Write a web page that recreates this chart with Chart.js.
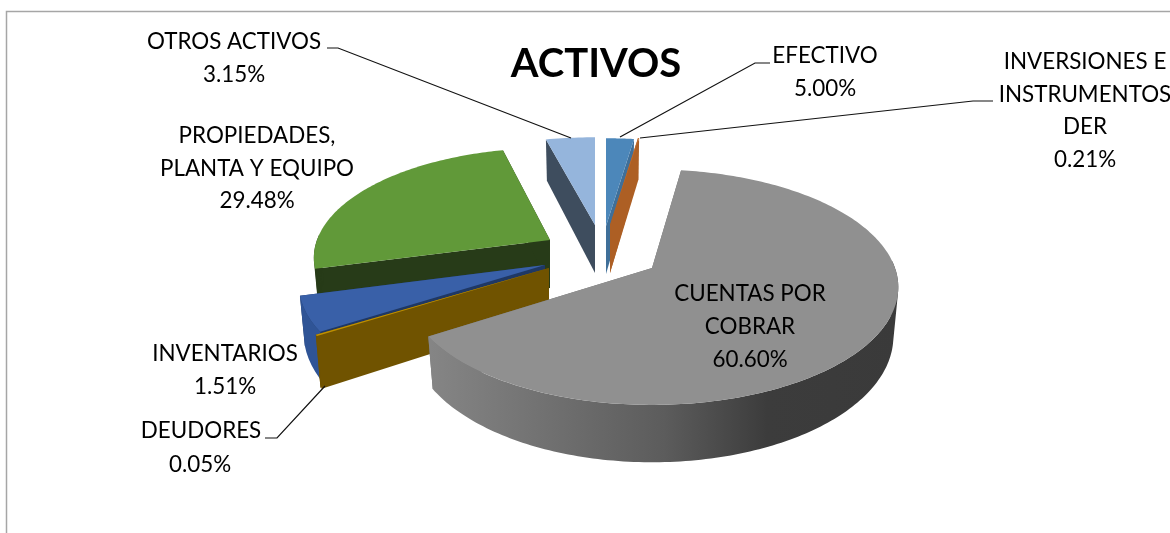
<!DOCTYPE html>
<html>
<head>
<meta charset="utf-8">
<style>
    html, body { margin: 0; padding: 0; background: #fff; overflow: hidden; }
    #wrap { width: 1170px; height: 533px; }
</style>
<script src="https://cdn.jsdelivr.net/npm/chart.js@4"></script>
</head>
<body>
<div id="wrap"><canvas id="chart" width="1170" height="533"></canvas></div>
<script>
const categories = ["EFECTIVO", "INVERSIONES E INSTRUMENTOS DER", "CUENTAS POR COBRAR", "DEUDORES", "INVENTARIOS", "PROPIEDADES, PLANTA Y EQUIPO", "OTROS ACTIVOS"];
const values = [5.00, 0.21, 60.60, 0.05, 1.51, 29.48, 3.15];
const chartTitle = "ACTIVOS";

const topColors = ["#4c87ba", "#c06a2b", "#909090", "#bf9000", "#3960a8", "#619939", "#95b5dc"];
const wallColors = ["#3f6f99", "#ad5f24", "#707070", "#705300", "#1f3864", "#273b18", "#3e4d5e"];
const rimColors = ["#3f6f99", "#ad5f24", null, "#705300", "#2f5496", "#273b18", "#3e4d5e"];

// where each exploded slice lands on the page, apex + radii of the tilted disc
const sliceViews = [
    { ax: 606, ay: 226, sx: 243, sy: 102 },
    { ax: 610, ay: 225, sx: 243, sy: 102 },
    { ax: 652, ay: 268, sx: 243, sy: 114.6 },
    { ax: 549, ay: 268, sx: 252, sy: 114 },
    { ax: 545, ay: 265, sx: 243, sy: 114 },
    { ax: 550, ay: 240, sx: 233, sy: 107 },
    { ax: 595, ay: 225, sx: 243, sy: 102 }
];
const drawOrder = [6, 0, 1, 5, 4, 3, 2];

// the 3D view squeezes the angles at the back of the pie: [data deg, drawn deg]
const angleWarp = [[0, 0], [18, 7.7], [18.76, 8], [236.9, 237], [242.5, 255], [348.7, 346.5], [360, 360]];
const perspective = 0.163;
const wallDepth = 48;
const wallShrink = 0.98;

const labelLines = [
    { text: "EFECTIVO", x: 825, y: 63 },
    { text: "5.00%", x: 825, y: 96 },
    { text: "INVERSIONES E", x: 1085, y: 69 },
    { text: "INSTRUMENTOS", x: 1085, y: 102 },
    { text: "DER", x: 1085, y: 134 },
    { text: "0.21%", x: 1085, y: 167 },
    { text: "CUENTAS POR", x: 750, y: 301 },
    { text: "COBRAR", x: 750, y: 334 },
    { text: "60.60%", x: 750, y: 367 },
    { text: "DEUDORES", x: 201, y: 438 },
    { text: "0.05%", x: 200, y: 472 },
    { text: "INVENTARIOS", x: 225, y: 361 },
    { text: "1.51%", x: 225, y: 394 },
    { text: "PROPIEDADES,", x: 257, y: 143 },
    { text: "PLANTA Y EQUIPO", x: 257, y: 176 },
    { text: "29.48%", x: 257, y: 208 },
    { text: "OTROS ACTIVOS", x: 234, y: 49 },
    { text: "3.15%", x: 234, y: 82 }
];
const leaderLines = [
    [[770, 63], [755, 63], [620, 137]],
    [[993, 101], [973, 101], [640, 138]],
    [[265, 438], [277, 438], [325, 386]],
    [[327, 48], [338, 48], [571, 138]]
];

function warpAngle(deg) {
    for (let i = 1; i < angleWarp.length; i++) {
        const a = angleWarp[i - 1];
        const b = angleWarp[i];
        if (deg <= b[0]) {
            return a[1] + (deg - a[0]) / (b[0] - a[0]) * (b[1] - a[1]);
        }
    }
    return deg;
}

function project(view, deg, bottom) {
    const t = warpAngle(deg) * Math.PI / 180;
    const w = 1 + perspective * Math.cos(t);
    const shrink = bottom ? wallShrink : 1;
    return {
        x: view.ax + view.sx * Math.sin(t) / w * shrink,
        y: view.ay - view.sy * Math.cos(t) / w + (bottom ? wallDepth / w : 0)
    };
}

function fillPoly(ctx, pts, color) {
    ctx.beginPath();
    pts.forEach((p, i) => i === 0 ? ctx.moveTo(p.x, p.y) : ctx.lineTo(p.x, p.y));
    ctx.closePath();
    ctx.fillStyle = color;
    ctx.fill();
}

function signedArea(pts) {
    let area = 0;
    pts.forEach((p, i) => {
        const q = pts[(i + 1) % pts.length];
        area += p.x * q.y - q.x * p.y;
    });
    return area;
}

function drawSlice(ctx, arc, i) {
    const view = sliceViews[i];
    const start = (arc.startAngle + Math.PI / 2) * 180 / Math.PI;
    const end = (arc.endAngle + Math.PI / 2) * 180 / Math.PI;
    const steps = Math.max(2, Math.ceil(end - start));
    const degs = [];
    const topArc = [];
    const bottomArc = [];
    for (let s = 0; s <= steps; s++) {
        const deg = start + (end - start) * s / steps;
        degs.push(deg);
        topArc.push(project(view, deg, false));
        bottomArc.push(project(view, deg, true));
    }
    const apexTop = { x: view.ax, y: view.ay };
    const apexBottom = { x: view.ax, y: view.ay + wallDepth };

    // radial walls first, the rim over them, the top face last
    fillPoly(ctx, [apexTop, topArc[0], bottomArc[0], apexBottom], wallColors[i]);
    fillPoly(ctx, [apexTop, topArc[steps], bottomArc[steps], apexBottom], wallColors[i]);

    let rim = rimColors[i];
    if (!rim) {
        rim = ctx.createLinearGradient(431, 0, 898, 0);
        rim.addColorStop(0, "#858585");
        rim.addColorStop(0.5, "#5c5c5c");
        rim.addColorStop(0.72, "#3c3c3c");
        rim.addColorStop(1, "#3a3a3a");
    }
    // one path of same-wound strips, only the front of the disc shows a rim
    ctx.beginPath();
    for (let s = 0; s < steps; s++) {
        if (Math.cos(warpAngle(degs[s]) * Math.PI / 180) > 0.05 && Math.cos(warpAngle(degs[s + 1]) * Math.PI / 180) > 0.05) {
            continue;
        }
        let quad = [topArc[s], topArc[s + 1], bottomArc[s + 1], bottomArc[s]];
        if (signedArea(quad) < 0) {
            quad = quad.reverse();
        }
        quad.forEach((p, k) => k === 0 ? ctx.moveTo(p.x, p.y) : ctx.lineTo(p.x, p.y));
        ctx.closePath();
    }
    ctx.fillStyle = rim;
    ctx.fill();

    fillPoly(ctx, [apexTop].concat(topArc), arc.options.backgroundColor);
}

const pie3d = {
    id: "pie3d",
    beforeDatasetsDraw(chart) {
        const ctx = chart.ctx;
        const arcs = chart.getDatasetMeta(0).data;
        ctx.save();
        drawOrder.forEach(i => drawSlice(ctx, arcs[i], i));
        ctx.restore();
        return false; // flat arcs are replaced by the tilted ones
    },
    afterDraw(chart) {
        const ctx = chart.ctx;
        ctx.save();

        ctx.strokeStyle = "#a6a6a6";
        ctx.lineWidth = 1.5;
        ctx.strokeRect(6.5, 11.5, 1300, 700);

        ctx.strokeStyle = "#111";
        ctx.lineWidth = 1.2;
        leaderLines.forEach(line => {
            ctx.beginPath();
            line.forEach((p, i) => i === 0 ? ctx.moveTo(p[0], p[1]) : ctx.lineTo(p[0], p[1]));
            ctx.stroke();
        });

        ctx.fillStyle = "#000";
        ctx.textAlign = "center";
        ctx.textBaseline = "alphabetic";
        ctx.font = "22.4px Lato";
        labelLines.forEach(l => ctx.fillText(l.text, l.x, l.y));

        ctx.font = "bold 40px Lato";
        ctx.fillText(chartTitle, 596, 77);
        ctx.restore();
    }
};

new Chart(document.getElementById("chart").getContext("2d"), {
    type: "pie",
    data: {
        labels: categories,
        datasets: [{ data: values, backgroundColor: topColors, borderWidth: 0 }]
    },
    options: {
        responsive: false,
        animation: false,
        plugins: {
            legend: { display: false },
            tooltip: { enabled: false }
        }
    },
    plugins: [pie3d]
});
</script>
</body>
</html>
